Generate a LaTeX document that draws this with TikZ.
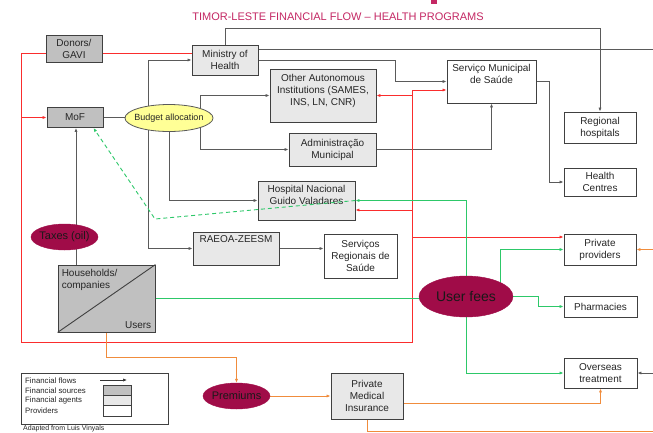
\documentclass[tikz,border=0pt]{standalone}
\usepackage{fontspec}
\setmainfont{Liberation Sans}
\usetikzlibrary{shapes.geometric,arrows.meta}
\definecolor{titlec}{RGB}{196,40,100}
\definecolor{srcfill}{RGB}{192,192,192}
\definecolor{agfill}{RGB}{232,232,232}
\definecolor{boxline}{RGB}{64,64,64}
\definecolor{linegray}{RGB}{90,90,90}
\definecolor{flowred}{RGB}{250,45,45}
\definecolor{flowgreen}{RGB}{45,200,105}
\definecolor{floworange}{RGB}{240,140,60}
\definecolor{maroonc}{RGB}{160,12,72}
\definecolor{budgety}{RGB}{255,255,150}
\pgfdeclarelayer{paper}
\pgfdeclarelayer{flows}
\pgfsetlayers{paper,flows,main}
\begin{document}
\begin{tikzpicture}[x=1pt,y=-1pt,
  every node/.style={font=\fontsize{10}{12}\selectfont, text=black!85},
  box/.style={draw=boxline, line width=0.9pt, rectangle, inner sep=0pt, align=center},
  src/.style={box, fill=srcfill},
  agent/.style={box, fill=agfill},
  prov/.style={box, fill=white},
  oval/.style={ellipse, inner sep=0pt, fill=maroonc, draw=maroonc},
  arr/.style={-{Latex[length=4pt,width=3.2pt]}},
  gline/.style={line width=0.8pt, draw=linegray},
  rline/.style={line width=0.9pt, draw=flowred},
  grline/.style={line width=0.9pt, draw=flowgreen},
  oline/.style={line width=0.9pt, draw=floworange},
  toplab/.style={anchor=north, align=center, inner sep=4pt},
  legtxt/.style={anchor=west, inner sep=0pt, font=\fontsize{7.8}{9}\selectfont}
]
\begin{pgfonlayer}{paper}
\fill[white] (0,0) rectangle (653,432);
\end{pgfonlayer}
\useasboundingbox (0,0) rectangle (653,432);

% title
\node[font=\fontsize{11}{13}\selectfont, text=titlec] (title) at (338,16.5) {TIMOR-LESTE FINANCIAL FLOW – HEALTH PROGRAMS};
\fill[titlec] (431,0) rectangle (437,3.5);

% boxes
\node[src,minimum width=56pt,minimum height=27pt] (donors) at (74,48.5) {Donors/\\GAVI};
\node[src,minimum width=56pt,minimum height=20pt] (mof) at (75,117.5) {MoF};
\node[agent,minimum width=66pt,minimum height=30pt] (moh) at (225,60) {Ministry of\\Health};
\node[agent,minimum width=106pt,minimum height=53pt,label={[toplab,inner sep=5pt]north:{Other Autonomous\\Institutions (SAMES,\\INS, LN, CNR)}}] (oai) at (323,95.5) {};
\node[agent,minimum width=87pt,minimum height=33pt] (adm) at (332.5,149.5) {Administração\\Municipal};
\node[agent,minimum width=97pt,minimum height=39pt,label={[toplab]north:{Hospital Nacional\\Guido Valadares}}] (hnv) at (306.5,200.5) {};
\node[agent,minimum width=86pt,minimum height=33pt,label={[toplab]north:RAEOA-ZEESM}] (rae) at (236,248.5) {};
\node[prov,minimum width=73pt,minimum height=44pt] (srs) at (360.5,256) {Serviços\\Regionais de\\Saúde};
\node[prov,minimum width=89pt,minimum height=43pt,label={[toplab]north:{Serviço Municipal\\de Saúde}}] (sms) at (491.5,81.5) {};
\node[prov,minimum width=72pt,minimum height=31pt] (rh) at (600,127.5) {Regional\\hospitals};
\node[prov,minimum width=72pt,minimum height=28pt] (hc) at (600,182) {Health\\Centres};
\node[prov,minimum width=72pt,minimum height=31pt] (pp) at (600,249.5) {Private\\providers};
\node[prov,minimum width=73pt,minimum height=21pt] (ph) at (600.5,306.5) {Pharmacies};
\node[prov,minimum width=73pt,minimum height=30pt] (ot) at (600.5,373) {Overseas\\treatment};
\node[agent,minimum width=72pt,minimum height=46pt] (pmi) at (367,396) {Private\\Medical\\Insurance};
\node[src,minimum width=97pt,minimum height=67pt] (hh) at (106.5,298.5) {};
\draw[boxline,line width=0.9pt] (hh.south west) -- (hh.north east);
\node[anchor=north west,align=left,inner sep=4pt] (hhtxt) at (hh.north west) {Households/\\companies};
\node[anchor=south east,inner sep=4pt] (hhusers) at (hh.south east) {Users};

% ellipses
\node[ellipse,draw=linegray,line width=0.8pt,fill=budgety,minimum width=88pt,minimum height=27pt,inner sep=0pt,label={[font=\fontsize{9}{10}\selectfont]center:Budget allocation}] (ba) at (169,118) {};
\node[oval,minimum width=67pt,minimum height=26pt,label={[font=\fontsize{11}{13}\selectfont,text=black!90]center:Taxes (oil)}] (tax) at (64.5,237) {};
\node[oval,minimum width=94pt,minimum height=41pt,label={[font=\fontsize{14}{17}\selectfont,text=black!90]center:User fees}] (uf) at (466,296.5) {};
\node[oval,minimum width=67pt,minimum height=26pt,label={[font=\fontsize{11}{13}\selectfont,text=black!90]center:Premiums}] (prem) at (236.5,396) {};

% legend
\node[draw=boxline,line width=0.9pt,minimum width=147pt,minimum height=51pt,inner sep=0pt,fill=white] (legend) at (94.5,398.5) {};
\node[legtxt] (lt1) at (25,381) {Financial flows};
\node[legtxt] (lt2) at (25,391) {Financial sources};
\node[legtxt] (lt3) at (25,400.5) {Financial agents};
\node[legtxt] (lt4) at (25,410.5) {Providers};
\coordinate (la1) at (100,380);
\coordinate (la2) at (127,380);
\draw[gline,arr,line width=0.7pt,draw=black!80] (la1) -- (la2);
\node[src,line width=0.7pt,minimum width=28pt,minimum height=10.5pt] (ls1) at (117,390.5) {};
\node[agent,line width=0.7pt,minimum width=28pt,minimum height=10pt] (ls2) at (117,400.5) {};
\node[prov,line width=0.7pt,minimum width=28pt,minimum height=10.5pt] (ls3) at (117,411) {};
\node[anchor=base west,inner sep=0pt,font=\fontsize{7}{8}\selectfont] (credit) at (23,430) {Adapted from Luis Vinyals};

% connectors (behind nodes)
\begin{pgfonlayer}{flows}
% gray flows
\draw[gline] (mof.east) -- (mof.east -| ba.center);
\coordinate (baL) at ([xshift=-21pt]ba.center);
\coordinate (baR) at ([xshift=31pt]ba.center);
\draw[gline,arr] (baL) |- (moh.west);
\draw[gline,arr] (baL) |- (rae.west);
\draw[gline,arr] (baR) |- (oai.west);
\draw[gline,arr] (baR) |- (adm.west);
\draw[gline,arr] (ba.center) |- (hnv.west);
\coordinate (mohT) at (600,28);
\draw[gline,arr] (moh.north) |- (mohT) -- (rh.north);
\coordinate (mohE) at ([yshift=11pt]moh.east);
\coordinate (edgeA) at (653,49);
\draw[gline] (mohE) -- (edgeA);
\coordinate (mohK) at (395,81.5);
\draw[gline,arr] (moh.east) -| (mohK) -- (sms.west);
\draw[gline,arr] (adm.east) -| (sms.south);
\coordinate (smsK) at (549,81.5);
\draw[gline,arr] (sms.east) -- (smsK) |- (hc.west);
\draw[gline,arr] (rae.east) -- (rae.east -| srs.west);
\coordinate (tx) at ([xshift=-30.5pt]hh.north);
\draw[gline,arr] (tx) -- (tx |- mof.south);
\coordinate (edgeB) at (653,373);
\draw[gline,arr] (edgeB) -- (ot.east);
% red flows
\coordinate (rA) at (21,53);
\coordinate (rB) at (21,342);
\coordinate (rC) at (412,342);
\coordinate (rD) at (412,90);
\coordinate (mohW) at ([yshift=7pt]moh.west);
\coordinate (smsW) at ([yshift=-8.5pt]sms.west);
\draw[rline,arr] (mohW) -- (rA) -- (rB) -- (rC) -- (rD) -- (rD -| smsW);
\draw[rline,arr] (rA |- mof.west) -- (mof.west);
\draw[rline,arr] (rC |- oai.east) -- (oai.east);
\coordinate (hnvR) at ([yshift=-9.5pt]hnv.east);
\draw[rline,arr] (rC |- hnvR) -- (hnvR);
\coordinate (ppR) at ([yshift=12.5pt]pp.west);
\draw[rline,arr] (rC |- ppR) -- (ppR);
% green flows
\draw[grline] (hh.east) -- (hh.east -| uf.center);
\draw[grline,arr] (uf.center) |- (hnv.east);
\draw[grline,arr] (uf.center) |- (ot.west);
\coordinate (ufU) at ([xshift=34pt]uf.center);
\draw[grline,arr] (ufU) |- (pp.west);
\coordinate (ufK) at ([xshift=25pt]uf.east);
\draw[grline,arr] (uf.east) -- (ufK) |- (ph.west);
% orange flows
\coordinate (oy) at (0,357);
\draw[oline,arr] (hh.south) |- (oy -| prem.north) -- (prem.north);
\draw[oline,arr] (prem.east) -- (pmi.west);
\coordinate (pmiE) at ([yshift=-7pt]pmi.east);
\draw[oline,arr] (pmiE) -| (ot.south);
\coordinate (oz) at (653,431);
\draw[oline] (pmi.south) |- (oz);
\coordinate (edgeC) at (653,249.5);
\draw[oline,arr] (edgeC) -- (pp.east);
\end{pgfonlayer}

% dashed green over the hospital box
\coordinate (dk) at (155,219);
\draw[grline,dash pattern=on 4pt off 3pt,arr] (hnv.east) -- (dk) -- ([xshift=-10pt]mof.south east);
\end{tikzpicture}
\end{document}
